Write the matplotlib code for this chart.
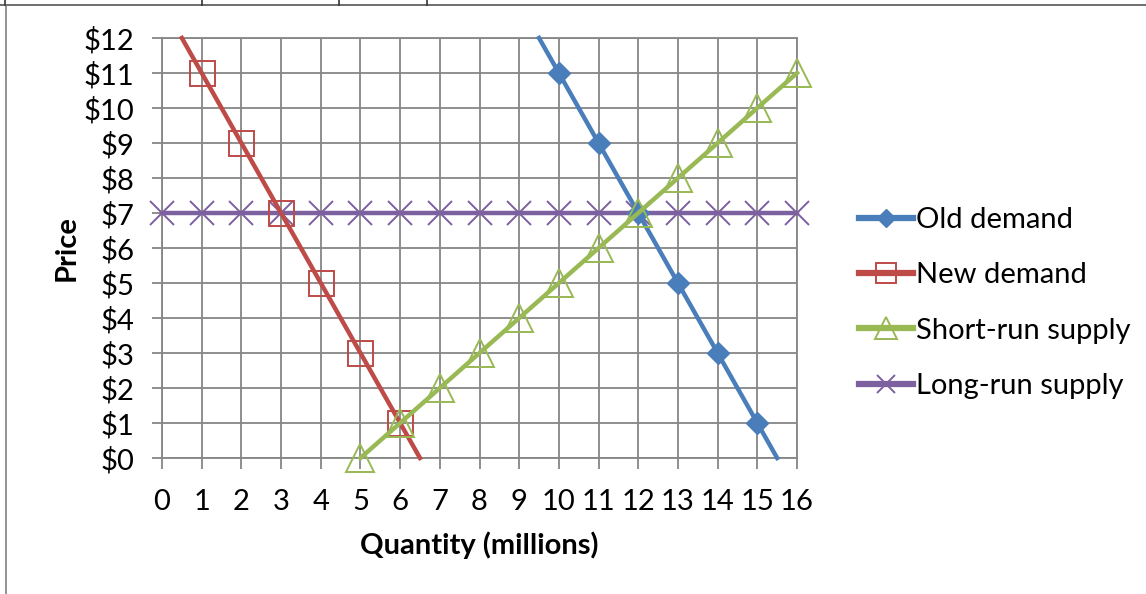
import matplotlib
matplotlib.use("Agg")
import matplotlib.pyplot as plt
from matplotlib.lines import Line2D

plt.rcParams['font.family'] = ['Lato', 'DejaVu Sans']

# Data (quantity in millions, price in $)
old_q = [9.5, 10, 11, 12, 13, 14, 15, 15.5]
old_p = [12, 11, 9, 7, 5, 3, 1, 0]
new_q = [0.5, 1, 2, 3, 4, 5, 6, 6.5]
new_p = [12, 11, 9, 7, 5, 3, 1, 0]
sr_q = [5, 6, 7, 8, 9, 10, 11, 12, 13, 14, 15, 16]
sr_p = [0, 1, 2, 3, 4, 5, 6, 7, 8, 9, 10, 11]
lr_q = list(range(0, 17))
lr_p = [7] * 17
x_ticks = list(range(0, 17))
y_ticks = list(range(0, 13))
y_labels = [f"${v}" for v in y_ticks]

W, H = 1146, 594
fig = plt.figure(figsize=(W / 100, H / 100), dpi=100)
ax = fig.add_axes([162 / W, 1 - 458 / H, (797 - 162) / W, (458 - 38) / H])

blue = '#4A7EBB'
red = '#BE4B48'
green = '#98B954'
purple = '#7D60A0'

ax.plot(lr_q, lr_p, color=purple, lw=3.2, marker='x', ms=17, mew=1.4,
        label='Long-run supply', clip_on=False, zorder=3)
ax.plot(old_q, old_p, color=blue, lw=3.2, marker='D', ms=11.5, mfc=blue, mec=blue,
        markevery=slice(1, -1), label='Old demand', clip_on=False, zorder=4)
ax.plot(new_q, new_p, color=red, lw=3.2, marker='s', ms=18, mfc='none', mec=red, mew=1.4,
        markevery=slice(1, -1), label='New demand', clip_on=False, zorder=4)
ax.plot(sr_q, sr_p, color=green, lw=3.2, marker='^', ms=20, mfc='none', mec=green, mew=1.4,
        label='Short-run supply', clip_on=False, zorder=5)

ax.set_xlim(0, 16)
ax.set_ylim(0, 12)
ax.set_xticks(x_ticks)
ax.set_xticklabels([str(v) for v in x_ticks])
ax.set_yticks(y_ticks)
ax.set_yticklabels(y_labels)
grid_c = '#868686'
ax.grid(True, color=grid_c, lw=1.3, zorder=0)
ax.set_axisbelow(True)
for s in ax.spines.values():
    s.set_color(grid_c)
    s.set_linewidth(1.3)
ax.tick_params(axis='x', direction='out', length=8, width=1.3, color=grid_c,
               labelsize=21, pad=14)
ax.tick_params(axis='y', direction='out', length=7, width=1.3, color=grid_c,
               labelsize=21, pad=13)

ax.set_xlabel('Quantity (millions)', fontsize=21, fontweight='bold', labelpad=12)
ax.set_ylabel('Price', fontsize=21, fontweight='bold', labelpad=3)

handles, labels = ax.get_legend_handles_labels()
order = ['Old demand', 'New demand', 'Short-run supply', 'Long-run supply']
hmap = dict(zip(labels, handles))
leg = fig.legend([hmap[k] for k in order], order, loc='center left',
                 bbox_to_anchor=(833 / W, 1 - 303 / H), frameon=False,
                 fontsize=21, handlelength=1.85, handletextpad=0.1,
                 labelspacing=1.0, markerscale=0.8)
for ln in leg.get_lines():
    ln.set_linewidth(4.5)

# Outer frame lines
fc = '#7f7f7f'
fig.add_artist(Line2D([0, 1], [1 - 5 / H, 1 - 5 / H], color='#555555', lw=1.2))
fig.add_artist(Line2D([6 / W, 6 / W], [0, 1 - 5 / H], color=fc, lw=1.2))
for xp in [5, 202, 339, 427]:
    fig.add_artist(Line2D([xp / W, xp / W], [1 - 5 / H, 1], color='#333333', lw=1.2))

fig.savefig('out.png', dpi=100)
